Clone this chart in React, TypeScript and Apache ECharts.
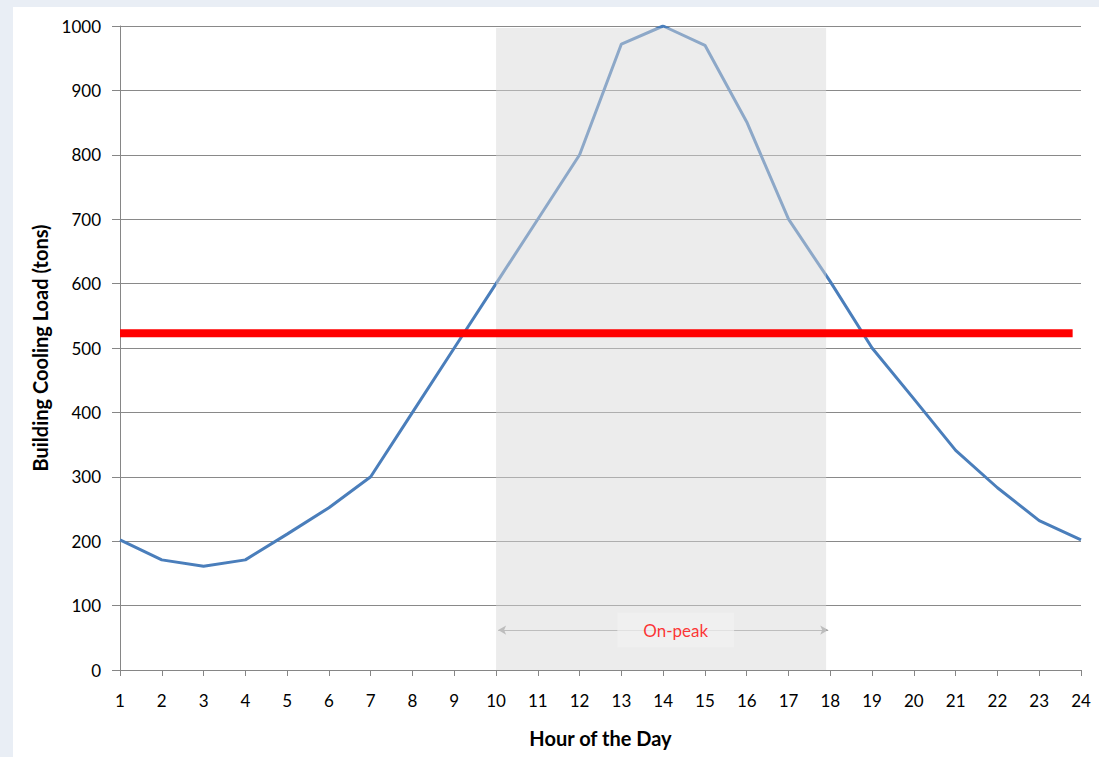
import React, { useEffect, useRef } from "react";
import * as echarts from "echarts";

const hours = [1, 2, 3, 4, 5, 6, 7, 8, 9, 10, 11, 12, 13, 14, 15, 16, 17, 18, 19, 20, 21, 22, 23, 24];
const coolingLoad = [202, 171, 161, 171, 211, 252, 300, 400, 500, 600, 700, 800, 972, 1000, 970, 851, 700, 603, 500, 421, 341, 283, 232, 202];
const capacityLevel = 523;
const capacityRange = [1, 23.8];
const onPeakRange = [10, 17.9];
const onPeakTop = 997;
const arrowLevel = 62;
const onPeakLabelX = 14.3;
const onPeakLabel = "On-peak";

const FONT = "Lato, 'Open Sans', sans-serif";

export default function App() {
  const ref = useRef<HTMLDivElement>(null);
  useEffect(() => {
    if (!ref.current) return;
    const chart = echarts.init(ref.current, null, { renderer: "svg" });
    chart.setOption({
      animation: false,
      backgroundColor: "#ffffff",
      textStyle: { fontFamily: FONT },
      graphic: [
        { type: "rect", z: -10, shape: { x: 0, y: 0, width: 1099, height: 757 }, style: { fill: "#e9eef5" } },
        { type: "rect", z: -9, shape: { x: 13, y: 7, width: 1086, height: 750 }, style: { fill: "#ffffff" } },
      ],
      grid: { left: 120, right: 18, top: 26, bottom: 87 },
      xAxis: {
        type: "value",
        min: 1,
        max: 24,
        interval: 1,
        name: "Hour of the Day",
        nameLocation: "middle",
        nameGap: 58,
        nameTextStyle: { fontSize: 20, fontWeight: "bold", color: "#000", fontFamily: FONT },
        axisLine: { lineStyle: { color: "#868686", width: 1 } },
        axisTick: { show: true, length: 6, lineStyle: { color: "#868686" } },
        axisLabel: { margin: 22, fontSize: 17, color: "#000", fontFamily: FONT },
        splitLine: { show: false },
      },
      yAxis: {
        type: "value",
        min: 0,
        max: 1000,
        interval: 100,
        name: "Building Cooling Load (tons)",
        nameLocation: "middle",
        nameGap: 70,
        nameTextStyle: { fontSize: 20, fontWeight: "bold", color: "#000", fontFamily: FONT },
        axisLine: { show: true, lineStyle: { color: "#868686", width: 1 } },
        axisTick: { show: true, length: 8, lineStyle: { color: "#868686" } },
        axisLabel: { margin: 19, fontSize: 17, color: "#000", fontFamily: FONT, formatter: (v: number) => String(v) },
        splitLine: { show: true, lineStyle: { color: "#898989", width: 1 } },
      },
      series: [
        {
          type: "line",
          z: 2,
          data: hours.map((h, i) => [h, coolingLoad[i]]),
          symbol: "none",
          lineStyle: { color: "#4a7ebb", width: 3 },
        },
        {
          type: "custom",
          z: 5,
          silent: true,
          data: [[onPeakRange[0], onPeakTop, onPeakRange[1], 0]],
          renderItem: (params: any, api: any) => {
            const p1 = api.coord([api.value(0), api.value(1)]);
            const p2 = api.coord([api.value(2), api.value(3)]);
            return {
              type: "rect",
              shape: { x: p1[0], y: p1[1], width: p2[0] - p1[0], height: p2[1] - p1[1] },
              style: { fill: "rgba(216,216,216,0.48)" },
            };
          },
        },
        {
          type: "line",
          z: 6,
          data: [],
          markLine: {
            silent: true,
            symbol: ["arrow", "arrow"],
            symbolSize: [7, 8],
            lineStyle: { color: "#a6a6a6", width: 1, type: "solid" },
            label: { show: false },
            data: [[{ coord: [onPeakRange[0] + 0.05, arrowLevel] }, { coord: [onPeakRange[1] + 0.05, arrowLevel] }]],
          },
        },
        {
          type: "scatter",
          z: 7,
          silent: true,
          symbolSize: 0,
          data: [[onPeakLabelX, arrowLevel]],
          label: {
            show: true,
            position: "inside",
            formatter: onPeakLabel,
            color: "#ff0000",
            fontSize: 17,
            fontFamily: FONT,
            backgroundColor: "rgba(242,242,242,0.85)",
            padding: [9, 26, 9, 26],
          },
        },
        {
          type: "line",
          z: 10,
          data: [[capacityRange[0], capacityLevel], [capacityRange[1], capacityLevel]],
          symbol: "none",
          lineStyle: { color: "#ff0000", width: 8 },
        },
      ],
    });
    return () => chart.dispose();
  }, []);
  return (
    <div
      ref={ref}
      style={{ position: "fixed", left: 0, top: 0, width: 1099, height: 757 }}
    />
  );
}
